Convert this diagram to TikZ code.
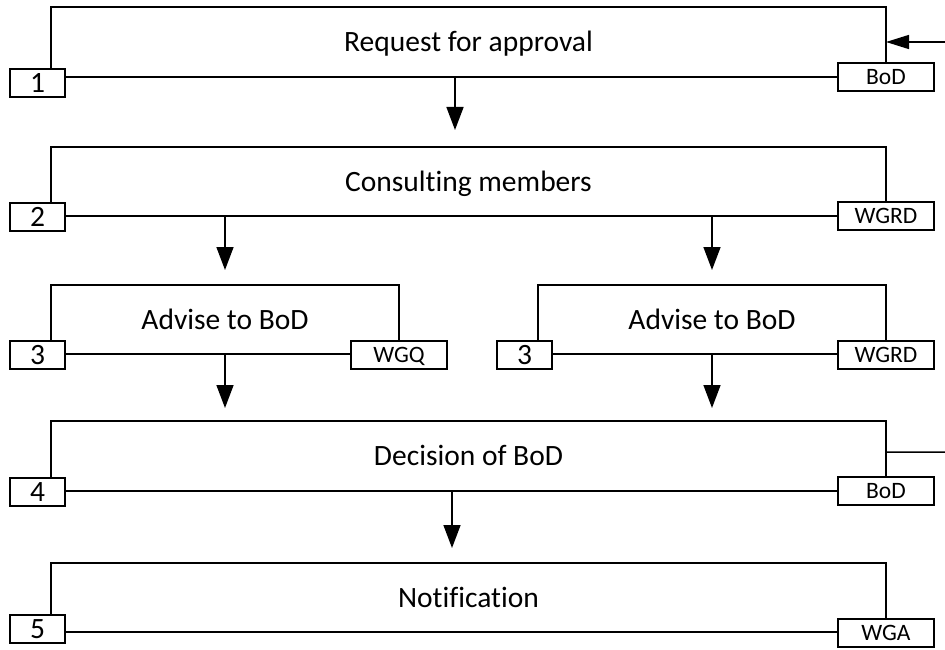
\documentclass[tikz,border=0pt]{standalone}
\usepackage{fontspec}
\setmainfont{Carlito}[Ligatures=NoCommon]
\usetikzlibrary{arrows.meta}
\begin{document}
\begin{tikzpicture}[x=1bp,y=-1bp,
  line width=1.5bp,
  stage/.style={draw, rectangle, inner sep=0pt, outer sep=0pt,
    font=\fontsize{29.5bp}{34bp}\selectfont, text height=19bp, text depth=0pt},
  tag/.style={draw, fill=white, rectangle, inner sep=0pt, outer sep=0pt,
    minimum height=28bp},
  numtag/.style={tag, minimum width=55bp,
    font=\fontsize{29.5bp}{34bp}\selectfont, text height=18.6bp, text depth=0pt},
  roletag/.style={tag, minimum width=96bp,
    font=\fontsize{23.5bp}{26bp}\selectfont, text height=15bp, text depth=0pt},
  flow/.style={-{Triangle[length=23bp,width=17bp]}},
  loopflow/.style={-{Triangle[length=23bp,width=14bp]}},
]
\useasboundingbox (0,0) rectangle (945,650);

% process stages
\node[stage, minimum width=835bp, minimum height=70bp] (s1) at (468.5,42) {Request for approval};
\node[stage, minimum width=835bp, minimum height=69bp] (s2) at (468.5,181.5) {Consulting members};
\node[stage, minimum width=348bp, minimum height=69bp] (s3a) at (225,319.5) {Advise to BoD};
\node[stage, minimum width=348bp, minimum height=69bp] (s3b) at (712,319.5) {Advise to BoD};
\node[stage, minimum width=835bp, minimum height=70bp] (s4) at (468.5,456) {Decision of BoD};
\node[stage, minimum width=835bp, minimum height=69bp] (s5) at (468.5,597.5) {Notification};

% flow between stages
\draw[flow] ([xshift=-13.5bp]s1.south) -- ([xshift=-13.5bp,yshift=17bp]s2.north);
\coordinate (d2a) at (s3a.north |- s2.south);
\coordinate (d2b) at (s3b.north |- s2.south);
\draw[flow] (d2a) -- ([yshift=15bp]s3a.north);
\draw[flow] (d2b) -- ([yshift=15bp]s3b.north);
\coordinate (u4a) at (s3a.south |- s4.north);
\coordinate (u4b) at (s3b.south |- s4.north);
\draw[flow] (s3a.south) -- ([yshift=13bp]u4a);
\draw[flow] (s3b.south) -- ([yshift=13bp]u4b);
\draw[flow] ([xshift=-16.5bp]s4.south) -- ([xshift=-16.5bp,yshift=15bp]s5.north);

% loop back from the decision to the request
\coordinate (loopin) at (945,42);
\coordinate (loopout) at (945,452);
\draw[loopflow] (loopin) -- (s1.east);
\draw ([yshift=4bp]s4.east) -- (loopout);

% step numbers
\node[numtag] (n1) at ([xshift=-13.5bp,yshift=-6bp]s1.south west) {1};
\node[numtag] (n2) at ([xshift=-13.5bp,yshift=-1bp]s2.south west) {2};
\node[numtag] (n3a) at ([xshift=-13.5bp,yshift=-1bp]s3a.south west) {3};
\node[numtag] (n3b) at ([xshift=-13.5bp,yshift=-1bp]s3b.south west) {3};
\node[numtag] (n4) at ([xshift=-13.5bp,yshift=-1bp]s4.south west) {4};
\node[numtag] (n5) at ([xshift=-13.5bp,yshift=3bp]s5.south west) {5};

% responsible parties
\node[roletag] (r1) at (s1.south east) {BoD};
\node[roletag] (r2) at (s2.south east) {WGRD};
\node[roletag] (r3a) at ([yshift=-1bp]s3a.south east) {WGQ};
\node[roletag] (r3b) at ([yshift=-1bp]s3b.south east) {WGRD};
\node[roletag] (r4) at (s4.south east) {BoD};
\node[roletag] (r5) at ([yshift=-1bp]s5.south east) {WGA};
\end{tikzpicture}
\end{document}
